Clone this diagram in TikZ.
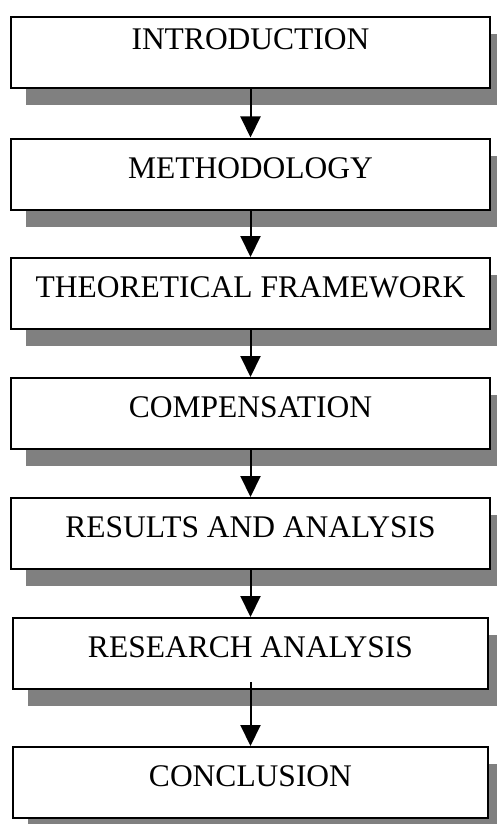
\documentclass[tikz,border=0pt]{standalone}
\usepackage{fontspec}
\setmainfont{Liberation Serif}
\usetikzlibrary{shadows,arrows.meta}
\begin{document}
\begin{tikzpicture}[x=1pt,y=-1pt,
  stagebox/.style={draw=black, line width=2pt, fill=white, inner sep=0pt,
    minimum height=71pt, minimum width=479pt,
    font=\fontsize{31.5}{36}\selectfont,
    text height=21pt, text depth=13pt,
    drop shadow={shadow xshift=15pt, shadow yshift=-17pt, fill=gray, opacity=1}},
  flow/.style={line width=2pt, -{Triangle[width=20pt,length=21pt]}}]
\useasboundingbox (0,0) rectangle (496,824);
\node[stagebox, text depth=27pt] (b1) at (250.5,53) {INTRODUCTION};
\node[stagebox] (b2) at (250.5,174) {METHODOLOGY};
\node[stagebox] (b3) at (250.5,293.5) {THEORETICAL FRAMEWORK};
\node[stagebox] (b4) at (250.5,413.5) {COMPENSATION};
\node[stagebox] (b5) at (250.5,533.5) {RESULTS AND ANALYSIS};
\node[stagebox, minimum width=475pt] (b6) at (250.5,653.5) {RESEARCH ANALYSIS};
\node[stagebox, minimum width=475pt] (b7) at (250.5,782.5) {CONCLUSION};
\draw[flow] (b1.south) -- (b2.north);
\draw[flow] (b2.south) -- (b3.north);
\draw[flow] (b3.south) -- (b4.north);
\draw[flow] (b4.south) -- (b5.north);
\draw[flow] (b5.south) -- (b6.north);
\coordinate (c6) at ([yshift=8pt]b6.south);
\draw[flow] (c6) -- (b7.north);
\end{tikzpicture}
\end{document}
